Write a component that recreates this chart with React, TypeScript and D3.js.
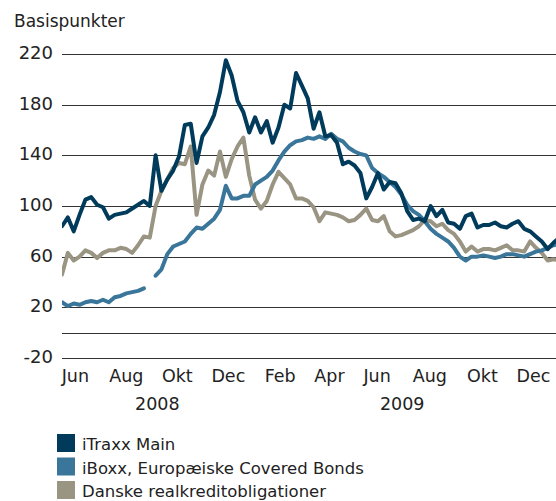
import React from "react";
import * as d3 from "d3";

// weekly observations, first one on 29 May 2008
const startDate = new Date(2008, 4, 29);
const dates = d3.range(86).map(i => d3.timeDay.offset(startDate, i * 7));

const iTraxx = [
  84, 91, 80, 93, 105, 107, 101, 99, 90, 93,
  94, 95, 98, 101, 104, 100, 140, 112, 121, 128,
  139, 164, 165, 134, 155, 162, 172, 190, 215, 203,
  183, 174, 158, 170, 158, 167, 150, 162, 180, 177,
  205, 195, 185, 161, 174, 155, 156, 150, 133, 135,
  132, 126, 106, 115, 126, 113, 119, 118, 110, 96,
  89, 90, 88, 100, 92, 97, 87, 86, 82, 92,
  94, 83, 85, 85, 87, 84, 83, 86, 88, 82,
  80, 76, 72, 66, 71, 75,
];

const iBoxx = [
  24, 21, 23, 22, 24, 25, 24, 26, 24, 28,
  29, 31, 32, 33, 35, null, 45, 50, 62, 68,
  70, 72, 78, 83, 82, 86, 90, 97, 116, 106,
  106, 108, 108, 117, 120, 123, 128, 136, 143, 148,
  151, 152, 154, 153, 155, 153, 157, 153, 151, 146,
  143, 141, 140, 130, 126, 123, 119, 115, 109, 101,
  96, 93, 88, 82, 78, 75, 72, 67, 60, 57,
  60, 60, 61, 60, 59, 60, 62, 62, 61, 60,
  62, 64, 65, 67, 69, 70,
];

const danske = [
  46, 63, 57, 60, 65, 63, 59, 63, 65, 65,
  67, 66, 63, 69, 76, 75, 100, 112, 121, 130,
  134, 133, 147, 93, 117, 128, 124, 143, 123, 137,
  147, 154, 124, 105, 98, 104, 117, 127, 122, 117,
  106, 106, 104, 99, 88, 95, 94, 93, 91, 88,
  89, 93, 98, 89, 88, 92, 80, 76, 77, 79,
  81, 84, 89, 88, 84, 86, 81, 78, 72, 64,
  68, 64, 66, 66, 65, 67, 69, 65, 65, 64,
  72, 67, 63, 57, 58, 57,
];

const seriesNames = ["iTraxx Main", "iBoxx, Europæiske Covered Bonds", "Danske realkreditobligationer"];
const seriesColors = ["#003b5c", "#3a7699", "#9a9583"];

const gridValues = [-20, 0, 20, 60, 100, 140, 180, 220];
const yLabels = [-20, 20, 60, 100, 140, 180, 220];

const monthLabels = ["Jun", "Aug", "Okt", "Dec", "Feb", "Apr", "Jun", "Aug", "Okt", "Dec"];
const monthDates = [
  "2008-06-14", "2008-08-14", "2008-10-14", "2008-12-14", "2009-02-14",
  "2009-04-14", "2009-06-10", "2009-08-12", "2009-10-14", "2009-12-14",
];
const yearLabels = ["2008", "2009"];
const yearDates = ["2008-09-20", "2009-07-10"];

const font = "'DejaVu Sans', sans-serif";

const App: React.FC = () => {
  const left = 62;
  const right = 556;

  const x = d3
    .scaleTime()
    .domain([new Date(2008, 4, 29), new Date(2010, 0, 10)])
    .range([left, right]);
  const y = d3.scaleLinear().domain([-20, 220]).range([358, 54]);

  const line = d3
    .line<number | null>()
    .defined(d => d != null)
    .x((_, i) => x(dates[i]))
    .y(d => y(d as number));

  const series = [iTraxx, iBoxx, danske];
  const parse = d3.timeParse("%Y-%m-%d");

  return (
    <svg
      width={556}
      height={501}
      style={{ position: "absolute", left: 0, top: 0, background: "#fff" }}
      fontFamily={font}
    >
      <defs>
        <clipPath id="plot">
          <rect x={left} y={0} width={right - left} height={400} />
        </clipPath>
      </defs>

      <text x={14} y={27} fontSize={17} fill="#222">
        Basispunkter
      </text>

      {gridValues.map(v => (
        <line
          key={v}
          x1={left}
          x2={right}
          y1={Math.round(y(v)) + 0.5}
          y2={Math.round(y(v)) + 0.5}
          stroke="#333"
          strokeWidth={1}
        />
      ))}
      {yLabels.map(v => (
        <text key={v} x={53} y={y(v) + 5} textAnchor="end" fontSize={18} fill="#222">
          {v}
        </text>
      ))}

      <g clipPath="url(#plot)" fill="none" strokeWidth={4} strokeLinejoin="round" strokeLinecap="round">
        {[2, 1, 0].map(k => (
          <path key={k} d={line(series[k]) || ""} stroke={seriesColors[k]} />
        ))}
      </g>

      {monthLabels.map((m, i) => (
        <text key={i} x={x(parse(monthDates[i])!)} y={382} textAnchor="middle" fontSize={17.5} fill="#222">
          {m}
        </text>
      ))}
      {yearLabels.map((yr, i) => (
        <text key={yr} x={x(parse(yearDates[i])!)} y={410} textAnchor="middle" fontSize={17.5} fill="#222">
          {yr}
        </text>
      ))}

      {seriesNames.map((name, i) => (
        <g key={name} transform={`translate(57, ${434 + i * 23.5})`}>
          <rect width={18} height={18} fill={seriesColors[i]} />
          <text x={25} y={16} fontSize={16.5} fill="#222">
            {name}
          </text>
        </g>
      ))}
    </svg>
  );
};

export default App;
